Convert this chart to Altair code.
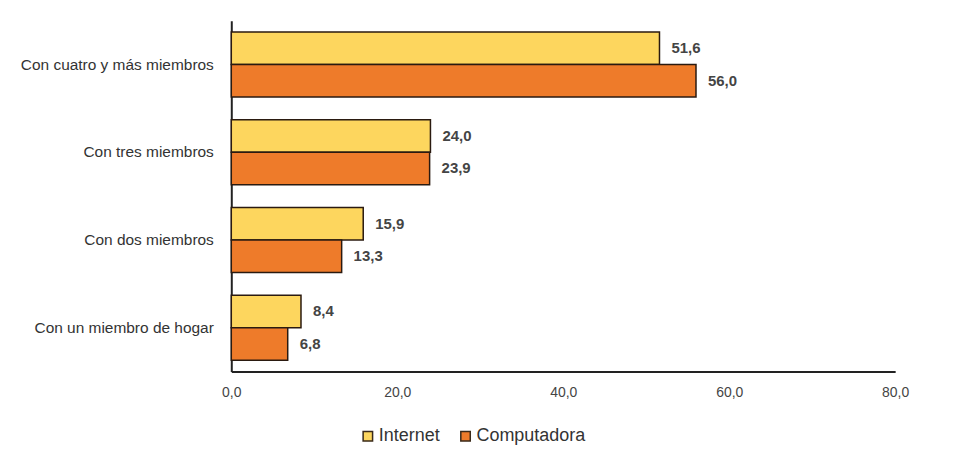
import altair as alt
import pandas as pd

categories = ["Con cuatro y más miembros", "Con tres miembros", "Con dos miembros", "Con un miembro de hogar"]
series = ["Internet", "Computadora"]
internet = [51.6, 24.0, 15.9, 8.4]
computadora = [56.0, 23.9, 13.3, 6.8]

rows = []
for c, i, k in zip(categories, internet, computadora):
    rows.append({"cat": c, "serie": "Internet", "val": i})
    rows.append({"cat": c, "serie": "Computadora", "val": k})
df = pd.DataFrame(rows)
df["label"] = df["val"].map(lambda v: f"{v:.1f}".replace(".", ","))

FONT = "Liberation Sans"

y = alt.Y("cat:N", sort=categories, title=None,
          scale=alt.Scale(paddingInner=0.26, paddingOuter=0.13),
          axis=alt.Axis(domain=True, domainColor="#222", domainWidth=2, ticks=False,
                        labelFont=FONT, labelFontSize=15.5, labelColor="#333",
                        labelPadding=18, labelLimit=400))
x = alt.X("val:Q", title=None, scale=alt.Scale(domain=[0, 80]),
          axis=alt.Axis(values=[0, 20, 40, 60, 80], grid=False, ticks=False,
                        domainColor="#222", domainWidth=2, labelFlush=False,
                        labelExpr="replace(format(datum.value, '.1f'), '.', ',')",
                        labelFont=FONT, labelFontSize=14, labelColor="#444",
                        labelPadding=14))
yoff = alt.YOffset("serie:N", sort=series, scale=alt.Scale(paddingInner=0))

bars = alt.Chart(df).mark_bar(stroke="#2a1a10", strokeWidth=1.5).encode(
    y=y, x=x, yOffset=yoff,
    color=alt.Color("serie:N", sort=series,
                    scale=alt.Scale(domain=series, range=["#FDD65E", "#EE7B2A"]),
                    legend=alt.Legend(title=None, orient="none", direction="horizontal",
                                      legendX=128, legendY=408,
                                      symbolType="square", symbolSize=90,
                                      symbolStrokeColor="#3a2a1a", symbolStrokeWidth=1.5,
                                      labelFont=FONT, labelFontSize=18, labelColor="#333",
                                      labelOffset=2, columnPadding=16)),
)

labels = alt.Chart(df).mark_text(align="left", baseline="middle", dx=12,
                                 font=FONT, fontSize=15, fontWeight="bold",
                                 color="#444").encode(
    y=alt.Y("cat:N", sort=categories), x="val:Q",
    yOffset=alt.YOffset("serie:N", sort=series), text="label:N")

chart = (bars + labels).properties(
    width=666, height=352,
    background="white",
    autosize=alt.AutoSizeParams(type="none"),
    padding={"left": 224, "top": 12, "right": 50, "bottom": 80},
).configure_view(stroke=None, strokeWidth=0)

chart.save("out.html", embed_options={"renderer": "svg", "actions": False})
